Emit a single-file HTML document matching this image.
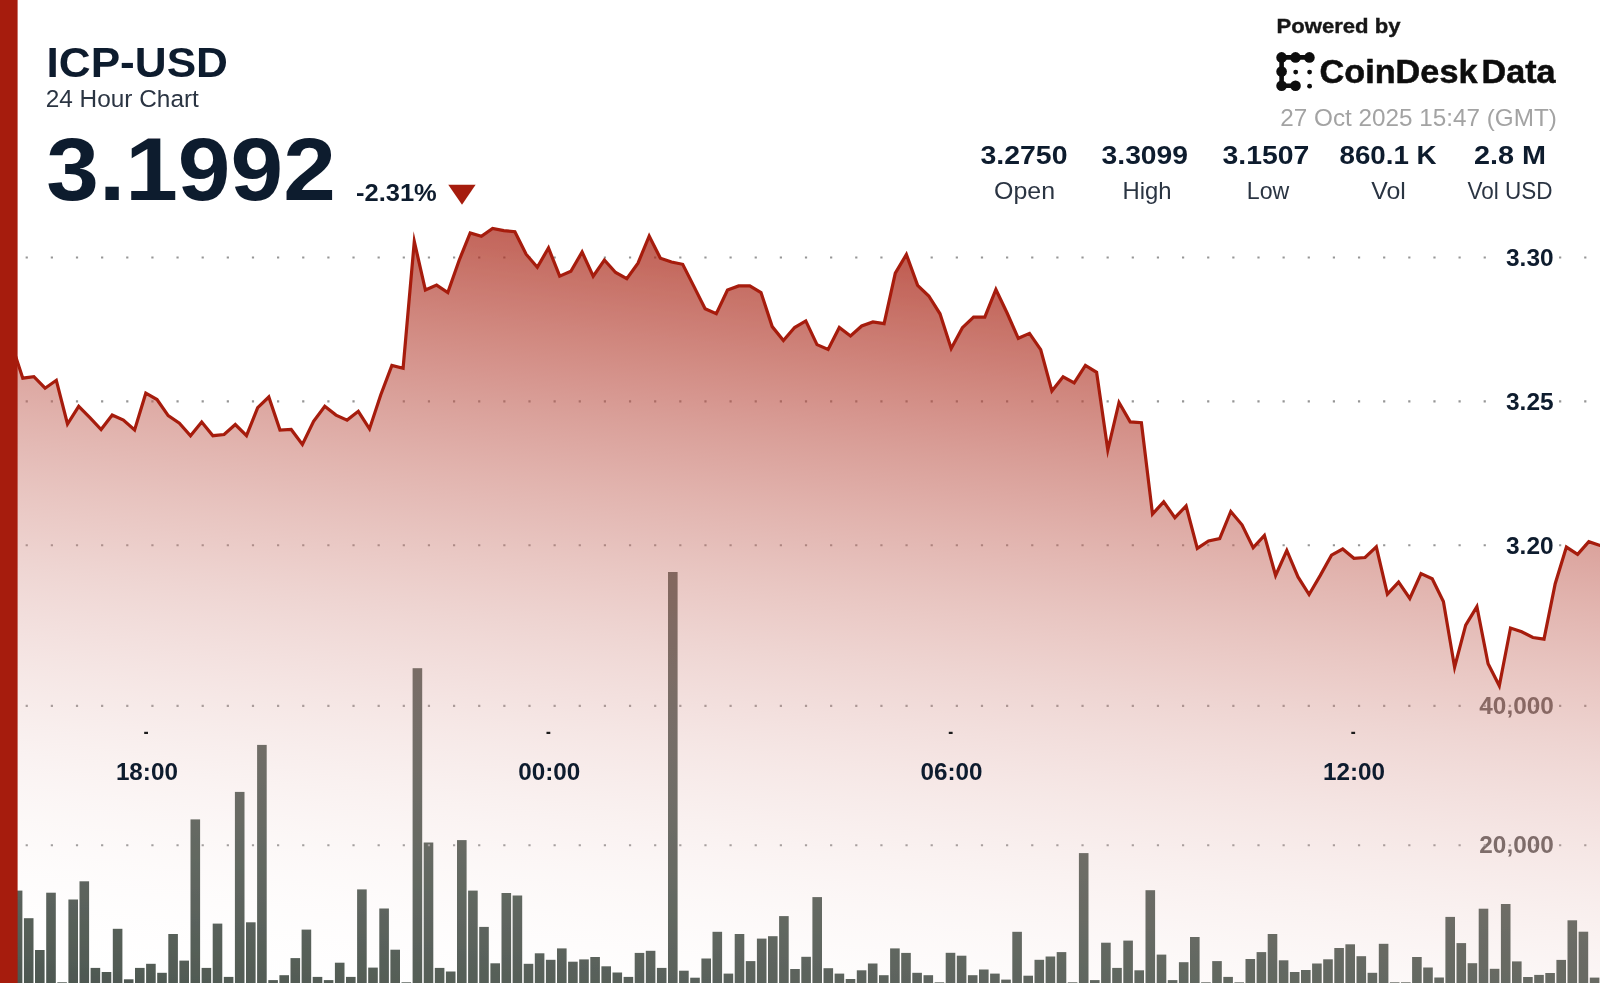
<!DOCTYPE html>
<html lang="en">
<head>
<meta charset="utf-8">
<title>ICP-USD 24 Hour Chart</title>
<style>
html,body{margin:0;padding:0;background:#fff;}
body{width:1600px;height:983px;overflow:hidden;}
svg{display:block;font-family:'Liberation Sans', Arial, Helvetica, sans-serif;}
</style>
</head>
<body>
<svg width="1600" height="983" viewBox="0 0 1600 983">
<defs>
<filter id="soft" x="-30" y="-30" width="1660" height="1043" filterUnits="userSpaceOnUse"><feGaussianBlur stdDeviation="0.5"/></filter>
<filter id="softT" x="-30" y="-30" width="1660" height="1043" filterUnits="userSpaceOnUse"><feGaussianBlur stdDeviation="0.4"/></filter>
<linearGradient id="ag" gradientUnits="userSpaceOnUse" x1="800" y1="228" x2="701.5" y2="1070.9"><stop offset="0.0000" stop-color="rgb(166,28,12)" stop-opacity="0.7450"/><stop offset="0.0417" stop-color="rgb(170,37,22)" stop-opacity="0.7140"/><stop offset="0.0833" stop-color="rgb(173,47,32)" stop-opacity="0.6829"/><stop offset="0.1250" stop-color="rgb(177,56,42)" stop-opacity="0.6519"/><stop offset="0.1667" stop-color="rgb(181,66,52)" stop-opacity="0.6208"/><stop offset="0.2083" stop-color="rgb(185,75,63)" stop-opacity="0.5898"/><stop offset="0.2500" stop-color="rgb(188,85,73)" stop-opacity="0.5587"/><stop offset="0.2917" stop-color="rgb(192,94,83)" stop-opacity="0.5277"/><stop offset="0.3333" stop-color="rgb(196,104,93)" stop-opacity="0.4967"/><stop offset="0.3750" stop-color="rgb(199,113,103)" stop-opacity="0.4656"/><stop offset="0.4167" stop-color="rgb(203,123,113)" stop-opacity="0.4346"/><stop offset="0.4583" stop-color="rgb(207,132,123)" stop-opacity="0.4035"/><stop offset="0.5000" stop-color="rgb(210,142,134)" stop-opacity="0.3725"/><stop offset="0.5417" stop-color="rgb(214,151,144)" stop-opacity="0.3415"/><stop offset="0.5833" stop-color="rgb(218,160,154)" stop-opacity="0.3104"/><stop offset="0.6250" stop-color="rgb(222,170,164)" stop-opacity="0.2794"/><stop offset="0.6667" stop-color="rgb(225,179,174)" stop-opacity="0.2483"/><stop offset="0.7083" stop-color="rgb(229,189,184)" stop-opacity="0.2173"/><stop offset="0.7500" stop-color="rgb(233,198,194)" stop-opacity="0.1862"/><stop offset="0.7917" stop-color="rgb(236,208,204)" stop-opacity="0.1552"/><stop offset="0.8333" stop-color="rgb(240,217,214)" stop-opacity="0.1242"/><stop offset="0.8750" stop-color="rgb(244,227,225)" stop-opacity="0.0931"/><stop offset="0.9167" stop-color="rgb(248,236,235)" stop-opacity="0.0621"/><stop offset="0.9583" stop-color="rgb(251,246,245)" stop-opacity="0.0310"/><stop offset="1.0000" stop-color="rgb(255,255,255)" stop-opacity="0.0000"/></linearGradient>
</defs>
<rect width="1600" height="983" fill="#fff"/>
<g filter="url(#soft)">
<rect x="-30" y="-30" width="1660" height="1043" fill="#fff"/>
<g id="bars" fill="#4c564f">
<rect x="1.7" y="940.0" width="9.6" height="75.0"/>
<rect x="12.8" y="890.6" width="9.6" height="124.4"/>
<rect x="23.9" y="918.2" width="9.6" height="96.8"/>
<rect x="35.0" y="950.0" width="9.6" height="65.0"/>
<rect x="46.2" y="892.7" width="9.6" height="122.3"/>
<rect x="57.3" y="982.3" width="9.6" height="32.7"/>
<rect x="68.4" y="899.5" width="9.6" height="115.5"/>
<rect x="79.5" y="881.3" width="9.6" height="133.7"/>
<rect x="90.6" y="967.9" width="9.6" height="47.1"/>
<rect x="101.7" y="972.0" width="9.6" height="43.0"/>
<rect x="112.8" y="928.8" width="9.6" height="86.2"/>
<rect x="123.9" y="979.3" width="9.6" height="35.7"/>
<rect x="135.0" y="967.9" width="9.6" height="47.1"/>
<rect x="146.1" y="963.8" width="9.6" height="51.2"/>
<rect x="157.2" y="972.8" width="9.6" height="42.2"/>
<rect x="168.3" y="934.0" width="9.6" height="81.0"/>
<rect x="179.4" y="960.6" width="9.6" height="54.4"/>
<rect x="190.5" y="819.4" width="9.6" height="195.6"/>
<rect x="201.6" y="967.9" width="9.6" height="47.1"/>
<rect x="212.7" y="923.6" width="9.6" height="91.4"/>
<rect x="223.8" y="976.9" width="9.6" height="38.1"/>
<rect x="234.9" y="791.9" width="9.6" height="223.1"/>
<rect x="246.0" y="922.3" width="9.6" height="92.7"/>
<rect x="257.1" y="744.9" width="9.6" height="270.1"/>
<rect x="268.3" y="980.1" width="9.6" height="34.9"/>
<rect x="279.4" y="975.2" width="9.6" height="39.8"/>
<rect x="290.5" y="958.1" width="9.6" height="56.9"/>
<rect x="301.6" y="929.6" width="9.6" height="85.4"/>
<rect x="312.7" y="976.9" width="9.6" height="38.1"/>
<rect x="323.8" y="980.1" width="9.6" height="34.9"/>
<rect x="334.9" y="962.7" width="9.6" height="52.3"/>
<rect x="346.0" y="976.9" width="9.6" height="38.1"/>
<rect x="357.1" y="889.4" width="9.6" height="125.6"/>
<rect x="368.2" y="967.6" width="9.6" height="47.4"/>
<rect x="379.3" y="908.5" width="9.6" height="106.5"/>
<rect x="390.4" y="949.7" width="9.6" height="65.3"/>
<rect x="401.5" y="982.3" width="9.6" height="32.7"/>
<rect x="412.6" y="668.2" width="9.6" height="346.8"/>
<rect x="423.7" y="842.5" width="9.6" height="172.5"/>
<rect x="434.8" y="967.9" width="9.6" height="47.1"/>
<rect x="445.9" y="971.5" width="9.6" height="43.5"/>
<rect x="457.0" y="840.1" width="9.6" height="174.9"/>
<rect x="468.1" y="890.6" width="9.6" height="124.4"/>
<rect x="479.2" y="926.9" width="9.6" height="88.1"/>
<rect x="490.4" y="963.3" width="9.6" height="51.7"/>
<rect x="501.5" y="893.0" width="9.6" height="122.0"/>
<rect x="512.6" y="895.5" width="9.6" height="119.5"/>
<rect x="523.7" y="963.8" width="9.6" height="51.2"/>
<rect x="534.8" y="953.3" width="9.6" height="61.7"/>
<rect x="545.9" y="959.8" width="9.6" height="55.2"/>
<rect x="557.0" y="948.4" width="9.6" height="66.6"/>
<rect x="568.1" y="961.7" width="9.6" height="53.3"/>
<rect x="579.2" y="959.4" width="9.6" height="55.6"/>
<rect x="590.3" y="957.0" width="9.6" height="58.0"/>
<rect x="601.4" y="966.3" width="9.6" height="48.7"/>
<rect x="612.5" y="972.5" width="9.6" height="42.5"/>
<rect x="623.6" y="976.9" width="9.6" height="38.1"/>
<rect x="634.7" y="952.9" width="9.6" height="62.1"/>
<rect x="645.8" y="950.8" width="9.6" height="64.2"/>
<rect x="656.9" y="967.9" width="9.6" height="47.1"/>
<rect x="668.0" y="572.0" width="9.6" height="443.0"/>
<rect x="679.1" y="970.7" width="9.6" height="44.3"/>
<rect x="690.2" y="977.7" width="9.6" height="37.3"/>
<rect x="701.4" y="958.5" width="9.6" height="56.5"/>
<rect x="712.5" y="931.8" width="9.6" height="83.2"/>
<rect x="723.6" y="973.6" width="9.6" height="41.4"/>
<rect x="734.7" y="934.0" width="9.6" height="81.0"/>
<rect x="745.8" y="961.1" width="9.6" height="53.9"/>
<rect x="756.9" y="938.6" width="9.6" height="76.4"/>
<rect x="768.0" y="936.2" width="9.6" height="78.8"/>
<rect x="779.1" y="916.1" width="9.6" height="98.9"/>
<rect x="790.2" y="969.0" width="9.6" height="46.0"/>
<rect x="801.3" y="956.8" width="9.6" height="58.2"/>
<rect x="812.4" y="897.1" width="9.6" height="117.9"/>
<rect x="823.5" y="968.2" width="9.6" height="46.8"/>
<rect x="834.6" y="973.6" width="9.6" height="41.4"/>
<rect x="845.7" y="979.0" width="9.6" height="36.0"/>
<rect x="856.8" y="970.3" width="9.6" height="44.7"/>
<rect x="867.9" y="963.5" width="9.6" height="51.5"/>
<rect x="879.0" y="975.2" width="9.6" height="39.8"/>
<rect x="890.1" y="948.4" width="9.6" height="66.6"/>
<rect x="901.2" y="952.9" width="9.6" height="62.1"/>
<rect x="912.3" y="972.8" width="9.6" height="42.2"/>
<rect x="923.5" y="975.2" width="9.6" height="39.8"/>
<rect x="934.6" y="982.3" width="9.6" height="32.7"/>
<rect x="945.7" y="952.8" width="9.6" height="62.2"/>
<rect x="956.8" y="955.7" width="9.6" height="59.3"/>
<rect x="967.9" y="975.2" width="9.6" height="39.8"/>
<rect x="979.0" y="969.5" width="9.6" height="45.5"/>
<rect x="990.1" y="973.6" width="9.6" height="41.4"/>
<rect x="1001.2" y="979.6" width="9.6" height="35.4"/>
<rect x="1012.3" y="931.8" width="9.6" height="83.2"/>
<rect x="1023.4" y="975.7" width="9.6" height="39.3"/>
<rect x="1034.5" y="959.8" width="9.6" height="55.2"/>
<rect x="1045.6" y="956.5" width="9.6" height="58.5"/>
<rect x="1056.7" y="952.1" width="9.6" height="62.9"/>
<rect x="1067.8" y="982.3" width="9.6" height="32.7"/>
<rect x="1078.9" y="853.1" width="9.6" height="161.9"/>
<rect x="1090.0" y="980.1" width="9.6" height="34.9"/>
<rect x="1101.1" y="942.7" width="9.6" height="72.3"/>
<rect x="1112.2" y="967.9" width="9.6" height="47.1"/>
<rect x="1123.3" y="940.6" width="9.6" height="74.4"/>
<rect x="1134.4" y="970.3" width="9.6" height="44.7"/>
<rect x="1145.5" y="890.2" width="9.6" height="124.8"/>
<rect x="1156.7" y="954.6" width="9.6" height="60.4"/>
<rect x="1167.8" y="980.1" width="9.6" height="34.9"/>
<rect x="1178.9" y="962.2" width="9.6" height="52.8"/>
<rect x="1190.0" y="937.0" width="9.6" height="78.0"/>
<rect x="1201.1" y="982.3" width="9.6" height="32.7"/>
<rect x="1212.2" y="961.1" width="9.6" height="53.9"/>
<rect x="1223.3" y="976.9" width="9.6" height="38.1"/>
<rect x="1234.4" y="982.3" width="9.6" height="32.7"/>
<rect x="1245.5" y="959.0" width="9.6" height="56.0"/>
<rect x="1256.6" y="952.1" width="9.6" height="62.9"/>
<rect x="1267.7" y="934.0" width="9.6" height="81.0"/>
<rect x="1278.8" y="960.3" width="9.6" height="54.7"/>
<rect x="1289.9" y="972.0" width="9.6" height="43.0"/>
<rect x="1301.0" y="970.0" width="9.6" height="45.0"/>
<rect x="1312.1" y="963.5" width="9.6" height="51.5"/>
<rect x="1323.2" y="959.3" width="9.6" height="55.7"/>
<rect x="1334.3" y="948.0" width="9.6" height="67.0"/>
<rect x="1345.4" y="944.3" width="9.6" height="70.7"/>
<rect x="1356.5" y="956.2" width="9.6" height="58.8"/>
<rect x="1367.6" y="972.8" width="9.6" height="42.2"/>
<rect x="1378.8" y="943.8" width="9.6" height="71.2"/>
<rect x="1389.9" y="982.3" width="9.6" height="32.7"/>
<rect x="1401.0" y="982.3" width="9.6" height="32.7"/>
<rect x="1412.1" y="957.0" width="9.6" height="58.0"/>
<rect x="1423.2" y="967.5" width="9.6" height="47.5"/>
<rect x="1434.3" y="977.5" width="9.6" height="37.5"/>
<rect x="1445.4" y="916.9" width="9.6" height="98.1"/>
<rect x="1456.5" y="943.1" width="9.6" height="71.9"/>
<rect x="1467.6" y="963.2" width="9.6" height="51.8"/>
<rect x="1478.7" y="908.7" width="9.6" height="106.3"/>
<rect x="1489.8" y="968.8" width="9.6" height="46.2"/>
<rect x="1500.9" y="904.0" width="9.6" height="111.0"/>
<rect x="1512.0" y="961.4" width="9.6" height="53.6"/>
<rect x="1523.1" y="977.0" width="9.6" height="38.0"/>
<rect x="1534.2" y="974.9" width="9.6" height="40.1"/>
<rect x="1545.3" y="973.0" width="9.6" height="42.0"/>
<rect x="1556.4" y="959.9" width="9.6" height="55.1"/>
<rect x="1567.5" y="920.3" width="9.6" height="94.7"/>
<rect x="1578.6" y="931.7" width="9.6" height="83.3"/>
<rect x="1589.8" y="977.6" width="9.6" height="37.4"/>
</g>
<g id="vlabels">
<text x="1553.8" y="713.9" font-size="23.5" font-weight="bold" fill="#595554" text-anchor="end" textLength="74.5" lengthAdjust="spacingAndGlyphs">40,000</text><text x="1553.8" y="853.3" font-size="23.5" font-weight="bold" fill="#595554" text-anchor="end" textLength="74.5" lengthAdjust="spacingAndGlyphs">20,000</text>
</g>
<g id="grid">
<line x1="0.5" y1="257.5" x2="1640" y2="257.5" stroke="#969696" stroke-width="2.1" stroke-dasharray="2.2 22.938" stroke-linecap="butt"/>
<line x1="0.5" y1="401.4" x2="1640" y2="401.4" stroke="#969696" stroke-width="2.1" stroke-dasharray="2.2 22.938" stroke-linecap="butt"/>
<line x1="0.5" y1="545.3" x2="1640" y2="545.3" stroke="#969696" stroke-width="2.1" stroke-dasharray="2.2 22.938" stroke-linecap="butt"/>
<line x1="0.5" y1="705.9" x2="1640" y2="705.9" stroke="#969696" stroke-width="2.1" stroke-dasharray="2.2 22.938" stroke-linecap="butt"/>
<line x1="0.5" y1="845.3" x2="1640" y2="845.3" stroke="#969696" stroke-width="2.1" stroke-dasharray="2.2 22.938" stroke-linecap="butt"/>
</g>
<path d="M0.4,338.0 L11.6,344.0 L22.8,378.2 L33.9,376.6 L45.1,388.2 L56.3,380.3 L67.5,424.0 L78.7,406.3 L89.9,417.6 L101.1,429.5 L112.2,415.0 L123.4,420.0 L134.6,430.0 L145.8,393.2 L157.0,399.5 L168.2,415.7 L179.4,423.2 L190.5,435.7 L201.7,422.0 L212.9,435.7 L224.1,434.5 L235.3,424.5 L246.5,435.7 L257.7,407.6 L268.8,397.0 L280.0,430.1 L291.2,429.5 L302.4,444.5 L313.6,421.4 L324.8,406.3 L336.0,415.1 L347.1,420.1 L358.3,411.3 L369.5,428.9 L380.7,395.0 L391.9,365.4 L403.1,368.2 L414.3,241.5 L425.4,290.0 L436.6,285.1 L447.8,292.5 L459.0,260.7 L470.2,233.0 L481.4,236.3 L492.6,228.5 L503.8,230.6 L514.9,231.7 L526.1,254.2 L537.3,267.2 L548.5,248.0 L559.7,276.2 L570.9,271.3 L582.1,252.0 L593.2,276.2 L604.4,260.0 L615.6,272.5 L626.8,278.6 L638.0,263.1 L649.2,236.0 L660.4,258.3 L671.5,262.0 L682.7,264.3 L693.9,286.4 L705.1,308.7 L716.3,313.6 L727.5,290.0 L738.7,285.9 L749.8,285.9 L761.0,292.5 L772.2,326.6 L783.4,340.5 L794.6,327.5 L805.8,320.9 L817.0,344.6 L828.1,349.4 L839.3,327.5 L850.5,336.0 L861.7,326.0 L872.9,322.0 L884.1,323.6 L895.3,273.1 L906.4,254.5 L917.6,285.4 L928.8,296.0 L940.0,313.8 L951.2,348.5 L962.4,327.7 L973.6,317.1 L984.8,317.1 L995.9,289.5 L1007.1,313.0 L1018.3,338.3 L1029.5,333.4 L1040.7,349.7 L1051.9,391.0 L1063.1,376.8 L1074.2,382.9 L1085.4,365.5 L1096.6,372.3 L1107.8,450.0 L1119.0,402.5 L1130.2,421.9 L1141.4,422.7 L1152.5,514.0 L1163.7,501.8 L1174.9,517.7 L1186.1,506.0 L1197.3,548.4 L1208.5,541.0 L1219.7,538.6 L1230.8,511.5 L1242.0,524.8 L1253.2,547.6 L1264.4,535.4 L1275.6,575.5 L1286.8,550.5 L1298.0,576.9 L1309.1,594.5 L1320.3,575.4 L1331.5,555.2 L1342.7,549.0 L1353.9,558.3 L1365.1,557.5 L1376.3,546.8 L1387.4,594.2 L1398.6,582.1 L1409.8,598.4 L1421.0,573.6 L1432.2,578.8 L1443.4,601.6 L1454.6,667.2 L1465.7,625.2 L1476.9,606.6 L1488.1,663.7 L1499.3,685.8 L1510.5,628.0 L1521.7,631.8 L1532.9,637.5 L1544.0,639.1 L1555.2,583.7 L1566.4,547.1 L1577.6,554.4 L1588.8,541.7 L1600.0,545.5 L1611.2,546.0 L1640,546.0 L1640,1015 L-30,1015 L-30,338.0 Z" fill="url(#ag)"/>
<path d="M0.4,338.0 L11.6,344.0 L22.8,378.2 L33.9,376.6 L45.1,388.2 L56.3,380.3 L67.5,424.0 L78.7,406.3 L89.9,417.6 L101.1,429.5 L112.2,415.0 L123.4,420.0 L134.6,430.0 L145.8,393.2 L157.0,399.5 L168.2,415.7 L179.4,423.2 L190.5,435.7 L201.7,422.0 L212.9,435.7 L224.1,434.5 L235.3,424.5 L246.5,435.7 L257.7,407.6 L268.8,397.0 L280.0,430.1 L291.2,429.5 L302.4,444.5 L313.6,421.4 L324.8,406.3 L336.0,415.1 L347.1,420.1 L358.3,411.3 L369.5,428.9 L380.7,395.0 L391.9,365.4 L403.1,368.2 L414.3,241.5 L425.4,290.0 L436.6,285.1 L447.8,292.5 L459.0,260.7 L470.2,233.0 L481.4,236.3 L492.6,228.5 L503.8,230.6 L514.9,231.7 L526.1,254.2 L537.3,267.2 L548.5,248.0 L559.7,276.2 L570.9,271.3 L582.1,252.0 L593.2,276.2 L604.4,260.0 L615.6,272.5 L626.8,278.6 L638.0,263.1 L649.2,236.0 L660.4,258.3 L671.5,262.0 L682.7,264.3 L693.9,286.4 L705.1,308.7 L716.3,313.6 L727.5,290.0 L738.7,285.9 L749.8,285.9 L761.0,292.5 L772.2,326.6 L783.4,340.5 L794.6,327.5 L805.8,320.9 L817.0,344.6 L828.1,349.4 L839.3,327.5 L850.5,336.0 L861.7,326.0 L872.9,322.0 L884.1,323.6 L895.3,273.1 L906.4,254.5 L917.6,285.4 L928.8,296.0 L940.0,313.8 L951.2,348.5 L962.4,327.7 L973.6,317.1 L984.8,317.1 L995.9,289.5 L1007.1,313.0 L1018.3,338.3 L1029.5,333.4 L1040.7,349.7 L1051.9,391.0 L1063.1,376.8 L1074.2,382.9 L1085.4,365.5 L1096.6,372.3 L1107.8,450.0 L1119.0,402.5 L1130.2,421.9 L1141.4,422.7 L1152.5,514.0 L1163.7,501.8 L1174.9,517.7 L1186.1,506.0 L1197.3,548.4 L1208.5,541.0 L1219.7,538.6 L1230.8,511.5 L1242.0,524.8 L1253.2,547.6 L1264.4,535.4 L1275.6,575.5 L1286.8,550.5 L1298.0,576.9 L1309.1,594.5 L1320.3,575.4 L1331.5,555.2 L1342.7,549.0 L1353.9,558.3 L1365.1,557.5 L1376.3,546.8 L1387.4,594.2 L1398.6,582.1 L1409.8,598.4 L1421.0,573.6 L1432.2,578.8 L1443.4,601.6 L1454.6,667.2 L1465.7,625.2 L1476.9,606.6 L1488.1,663.7 L1499.3,685.8 L1510.5,628.0 L1521.7,631.8 L1532.9,637.5 L1544.0,639.1 L1555.2,583.7 L1566.4,547.1 L1577.6,554.4 L1588.8,541.7 L1600.0,545.5 L1611.2,546.0" fill="none" stroke="#a61c0c" stroke-width="3.2" stroke-linejoin="miter" stroke-miterlimit="10"/>
<rect x="1502" y="252.5" width="54" height="10" fill="#fff"/><rect x="1502" y="396.4" width="54" height="10" fill="#fff"/><rect x="1502" y="540.3" width="54" height="10" fill="#fff"/>
<rect x="-30" y="-30" width="47.6" height="1043" fill="#a61c0c"/>
</g>
<g filter="url(#softT)">
<g id="labels">
<text x="1553.6" y="266.0" font-size="24" font-weight="bold" fill="#0f1b2d" text-anchor="end" textLength="47.6" lengthAdjust="spacingAndGlyphs">3.30</text><text x="1553.6" y="409.9" font-size="24" font-weight="bold" fill="#0f1b2d" text-anchor="end" textLength="47.6" lengthAdjust="spacingAndGlyphs">3.25</text><text x="1553.6" y="553.8" font-size="24" font-weight="bold" fill="#0f1b2d" text-anchor="end" textLength="47.6" lengthAdjust="spacingAndGlyphs">3.20</text>
<rect x="144.20000000000002" y="731.8" width="3.8" height="2.2" fill="#1a1a1a"/><text x="146.9" y="780" font-size="24" font-weight="bold" fill="#0f1b2d" text-anchor="middle" textLength="62" lengthAdjust="spacingAndGlyphs">18:00</text><rect x="546.5" y="731.8" width="3.8" height="2.2" fill="#1a1a1a"/><text x="549.2" y="780" font-size="24" font-weight="bold" fill="#0f1b2d" text-anchor="middle" textLength="62" lengthAdjust="spacingAndGlyphs">00:00</text><rect x="948.8" y="731.8" width="3.8" height="2.2" fill="#1a1a1a"/><text x="951.5" y="780" font-size="24" font-weight="bold" fill="#0f1b2d" text-anchor="middle" textLength="62" lengthAdjust="spacingAndGlyphs">06:00</text><rect x="1351.3" y="731.8" width="3.8" height="2.2" fill="#1a1a1a"/><text x="1354" y="780" font-size="24" font-weight="bold" fill="#0f1b2d" text-anchor="middle" textLength="62" lengthAdjust="spacingAndGlyphs">12:00</text>
</g>
<g id="header">
<text x="46.5" y="77" font-size="43" font-weight="bold" fill="#0f1b2d" text-anchor="start" textLength="181.5" lengthAdjust="spacingAndGlyphs">ICP-USD</text><text x="45.7" y="107.3" font-size="24.5" font-weight="normal" fill="#2b3443" text-anchor="start" textLength="153.2" lengthAdjust="spacingAndGlyphs">24 Hour Chart</text><text x="46.3" y="200.4" font-size="88.5" font-weight="bold" fill="#0f1b2d" text-anchor="start" textLength="289.5" lengthAdjust="spacingAndGlyphs">3.1992</text><text x="356" y="201.2" font-size="24.5" font-weight="bold" fill="#0f1b2d" text-anchor="start" textLength="80.8" lengthAdjust="spacingAndGlyphs">-2.31%</text><text x="1276.5" y="33" font-size="21" font-weight="bold" fill="#161616" text-anchor="start" textLength="124" lengthAdjust="spacingAndGlyphs" stroke="#161616" stroke-width="0.4">Powered by</text><text font-size="33.5" font-weight="bold" fill="#0a0a0a" stroke="#0a0a0a" stroke-width="0.5"><tspan x="1319.5" y="83.4" textLength="158" lengthAdjust="spacingAndGlyphs">CoinDesk</tspan><tspan x="1472" y="83.4" textLength="83.5" lengthAdjust="spacingAndGlyphs"> Data</tspan></text><text x="1280.3" y="126" font-size="24" font-weight="normal" fill="#a3a3a3" text-anchor="start" textLength="276.5" lengthAdjust="spacingAndGlyphs">27 Oct 2025 15:47 (GMT)</text><text x="1024" y="164" font-size="25.7" font-weight="bold" fill="#0f1b2d" text-anchor="middle" textLength="87" lengthAdjust="spacingAndGlyphs">3.2750</text><text x="1024.5" y="198.6" font-size="24" font-weight="normal" fill="#2b3443" text-anchor="middle" textLength="61" lengthAdjust="spacingAndGlyphs">Open</text><text x="1144.8" y="164" font-size="25.7" font-weight="bold" fill="#0f1b2d" text-anchor="middle" textLength="86.5" lengthAdjust="spacingAndGlyphs">3.3099</text><text x="1147" y="198.6" font-size="24" font-weight="normal" fill="#2b3443" text-anchor="middle" textLength="49" lengthAdjust="spacingAndGlyphs">High</text><text x="1266" y="164" font-size="25.7" font-weight="bold" fill="#0f1b2d" text-anchor="middle" textLength="86.8" lengthAdjust="spacingAndGlyphs">3.1507</text><text x="1268" y="198.6" font-size="24" font-weight="normal" fill="#2b3443" text-anchor="middle" textLength="42.5" lengthAdjust="spacingAndGlyphs">Low</text><text x="1388" y="164" font-size="25.7" font-weight="bold" fill="#0f1b2d" text-anchor="middle" textLength="97" lengthAdjust="spacingAndGlyphs">860.1 K</text><text x="1388.5" y="198.6" font-size="24" font-weight="normal" fill="#2b3443" text-anchor="middle" textLength="34.5" lengthAdjust="spacingAndGlyphs">Vol</text><text x="1510" y="164" font-size="25.7" font-weight="bold" fill="#0f1b2d" text-anchor="middle" textLength="72" lengthAdjust="spacingAndGlyphs">2.8 M</text><text x="1510" y="198.6" font-size="24" font-weight="normal" fill="#2b3443" text-anchor="middle" textLength="85" lengthAdjust="spacingAndGlyphs">Vol USD</text>
<path d="M448.3,184.7 L475.6,184.7 L462,204.8 Z" fill="#a61c0c"/>
<path d="M1309.4,57.4 L1281.6,57.4 L1281.6,85.7 L1295.5,85.7" fill="none" stroke="#0a0a0a" stroke-width="4.6" stroke-linejoin="round"/>
<circle cx="1281.6" cy="57.4" r="5.3" fill="#0a0a0a"/>
<circle cx="1295.5" cy="57.4" r="5.3" fill="#0a0a0a"/>
<circle cx="1309.4" cy="57.4" r="5.3" fill="#0a0a0a"/>
<circle cx="1281.6" cy="71.6" r="5.3" fill="#0a0a0a"/>
<circle cx="1281.6" cy="85.7" r="5.3" fill="#0a0a0a"/>
<circle cx="1295.5" cy="85.7" r="5.3" fill="#0a0a0a"/>
<circle cx="1295.7" cy="72.1" r="2.4" fill="#0a0a0a"/>
<circle cx="1309.6000000000001" cy="72.1" r="2.4" fill="#0a0a0a"/>
<circle cx="1309.6000000000001" cy="86.2" r="2.4" fill="#0a0a0a"/>
</g>
</g>
</svg>
</body>
</html>
